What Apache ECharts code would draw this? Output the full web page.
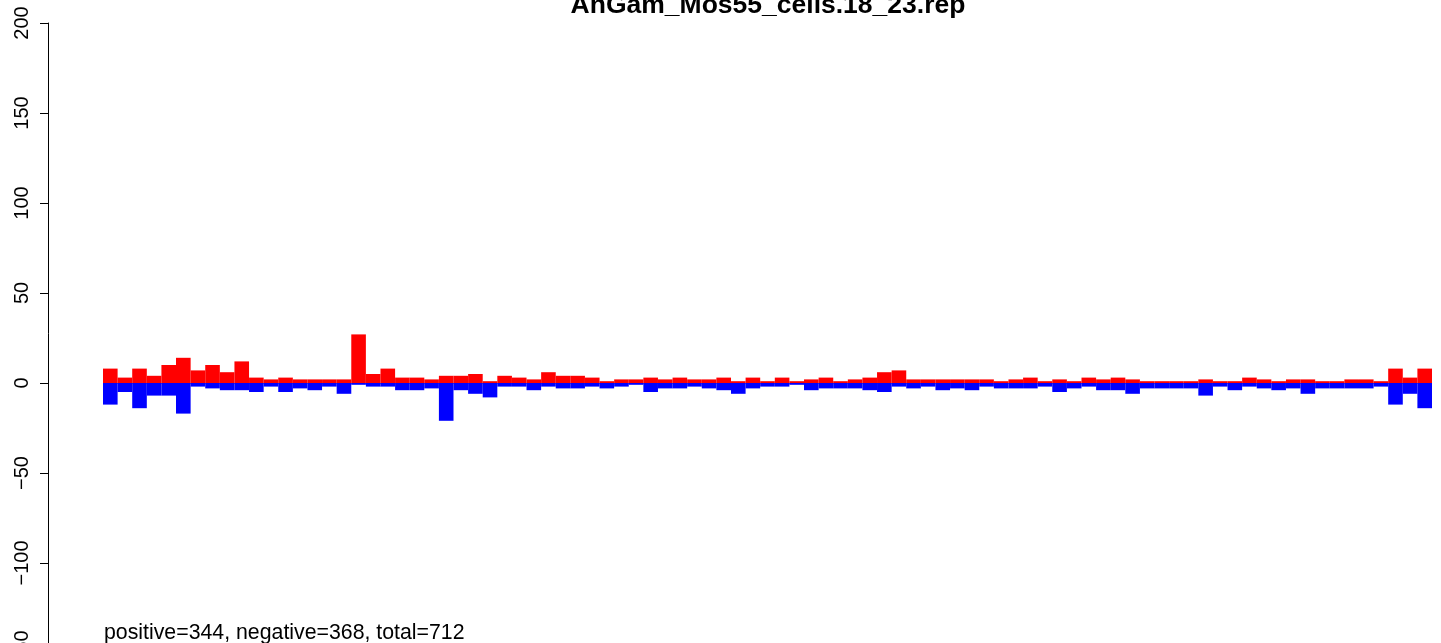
<!DOCTYPE html>
<html>
<head>
<meta charset="utf-8">
<script src="https://cdn.jsdelivr.net/npm/echarts@6/dist/echarts.min.js"></script>
<style>html,body{margin:0;padding:0;background:#fff}#c{width:1441px;height:643px}</style>
</head>
<body>
<div id="c"></div>
<script>
var titleText = 'AnGam_Mos55_cells.18_23.rep';
var footText = 'positive=344, negative=368, total=712';
var yTicks = [-150, -100, -50, 0, 50, 100, 150, 200];
var positive = [8,3,8,4,10,14,7,10,6,12,3,2,3,2,2,2,2,27,5,8,3,3,2,
  4,4,5,1,4,3,2,6,4,4,3,1,2,2,3,2,3,2,2,3,1,3,1,
  3,1,2,3,1,2,3,6,7,2,2,2,2,2,2,1,2,3,1,2,1,3,2,
  3,2,1,1,1,1,2,1,1,3,2,1,2,2,1,1,2,2,1,8,3,8];
var negative = [12,5,14,7,7,17,2,3,4,4,5,2,5,3,4,2,6,1,2,2,4,4,3,
  21,4,6,8,2,2,4,2,3,3,2,3,2,1,5,3,3,2,3,4,6,3,2,
  2,1,4,3,3,3,4,5,2,3,2,4,3,4,2,3,3,3,2,5,3,2,4,
  4,6,3,3,3,3,7,2,4,2,3,4,3,6,3,3,3,3,2,12,6,14];
var categories = positive.map(function(_, i){ return String(i + 1); });

var chart = echarts.init(document.getElementById('c'), null, {renderer: 'canvas'});
chart.setOption({
  animation: false,
  backgroundColor: '#ffffff',
  grid: {left: 103, right: 9, top: 23, bottom: -10, containLabel: false, outerBoundsMode: 'none'},
  xAxis: {type: 'category', data: categories, show: false, boundaryGap: true},
  yAxis: {
    type: 'value', min: yTicks[0], max: yTicks[yTicks.length - 1], interval: 50,
    offset: 55,
    axisLine: {show: true, lineStyle: {color: '#000', width: 1}},
    axisTick: {show: true, length: 8, lineStyle: {color: '#000', width: 1}},
    splitLine: {show: false},
    axisLabel: {
      rotate: 90, margin: 16, color: '#000',
      fontFamily: 'Liberation Sans', fontSize: 20,
      formatter: function(v){ return String(v).replace('-', '\u2212'); }
    }
  },
  graphic: [
    {type: 'text', style: {text: titleText, x: 768, y: 6, textAlign: 'center', textVerticalAlign: 'middle', font: 'bold 26.5px "Liberation Sans"', fill: '#000'}},
    {type: 'text', style: {text: footText, x: 104, y: 633, textAlign: 'left', textVerticalAlign: 'middle', font: '21.3px "Liberation Sans"', fill: '#000'}}
  ],
  series: [
    {type: 'line', data: [], z: 1, silent: true,
     markLine: {silent: true, z: 0, symbol: 'none', label: {show: false},
       lineStyle: {color: '#999', type: 'solid', width: 1}, data: [{yAxis: 0}]}},
    {type: 'bar', name: 'positive', data: positive, z: 3, barWidth: '100%', barGap: '-100%',
     itemStyle: {color: '#ff0000'}},
    {type: 'bar', name: 'negative', data: negative.map(function(v){ return -v; }), z: 4, barWidth: '100%', barGap: '-100%',
     itemStyle: {color: '#0000ff'}}
  ]
});
</script>
</body>
</html>
